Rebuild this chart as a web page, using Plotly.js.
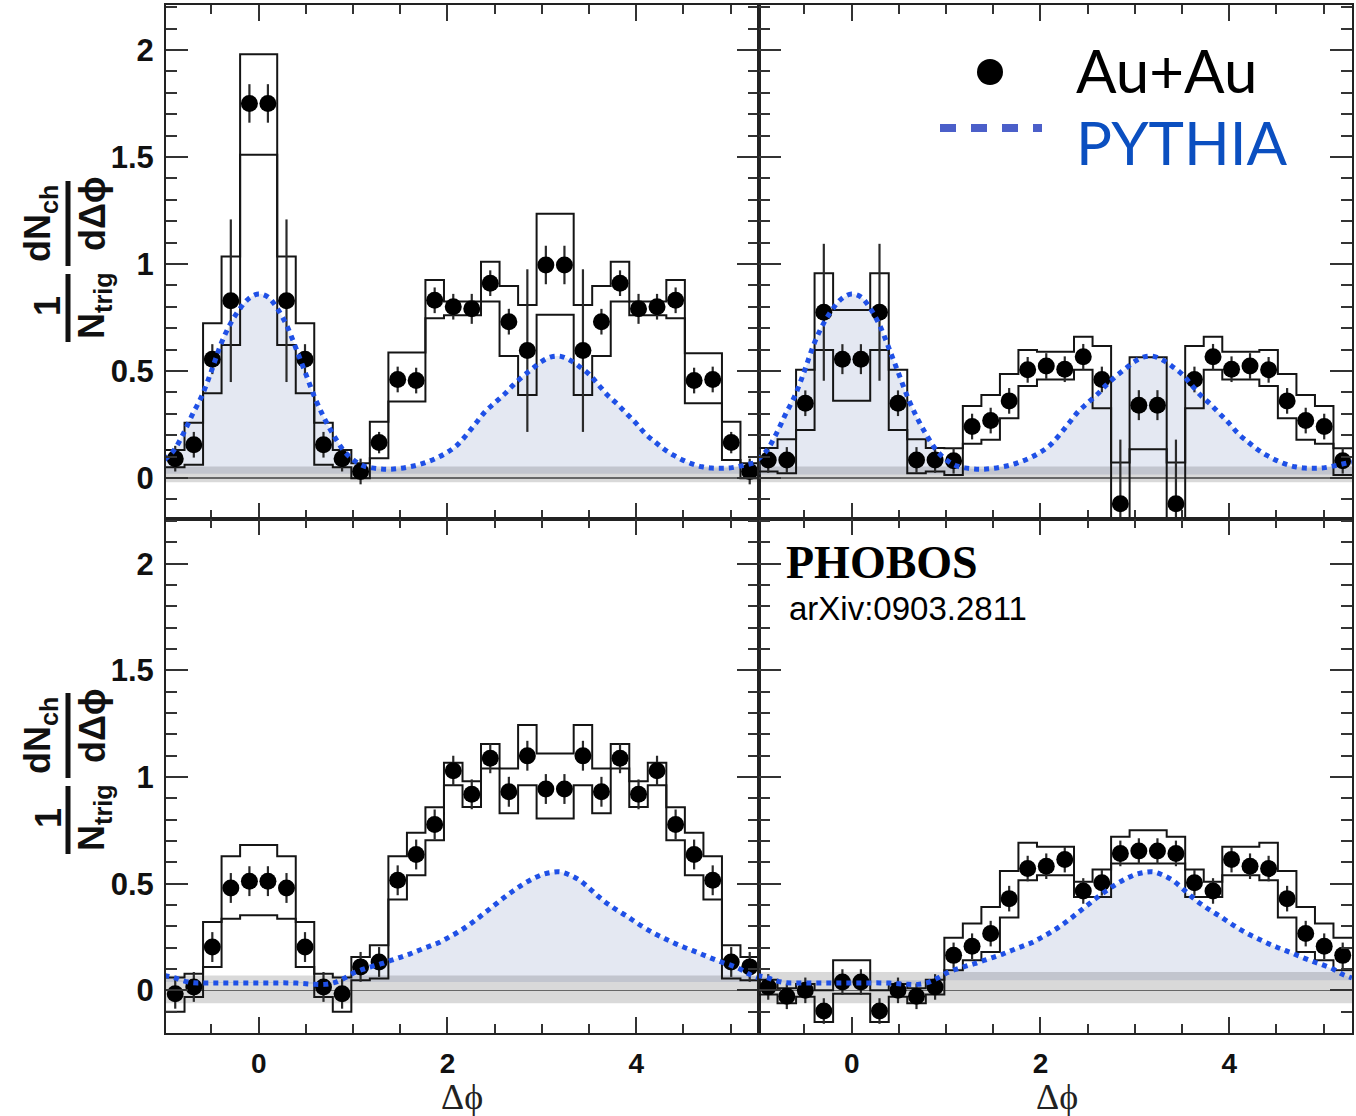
<!DOCTYPE html>
<html><head><meta charset="utf-8">
<script src="https://cdn.plot.ly/plotly-3.0.1.min.js"></script>
<style>html,body{margin:0;padding:0;background:#fff;}</style>
</head><body>
<div id="chart" style="width:1356px;height:1116px"></div>
<script>
// ---------- DATA ----------
const binCenters = [-0.884,-0.687,-0.491,-0.295,-0.098,0.098,0.295,0.491,0.687,0.884,1.080,1.276,1.473,1.669,1.865,2.062,2.258,2.454,2.651,2.847,3.043,3.240,3.436,3.632,3.829,4.025,4.221,4.418,4.614,4.811,5.007,5.203];

// top-left panel
const ptsTL   = [0.09,0.155,0.555,0.828,1.75,1.75,0.828,0.555,0.155,0.09,0.03,0.165,0.46,0.455,0.83,0.80,0.79,0.91,0.73,0.595,0.995,0.995,0.595,0.73,0.91,0.79,0.80,0.83,0.455,0.46,0.165,0.03];
const errTL   = [0.06,0.06,0.07,0.38,0.09,0.09,0.38,0.07,0.06,0.06,0.06,0.05,0.06,0.06,0.06,0.06,0.07,0.06,0.06,0.38,0.09,0.09,0.38,0.06,0.06,0.07,0.06,0.06,0.06,0.06,0.05,0.06];
const sysHiTL = [0.13,0.258,0.723,1.035,1.98,1.98,1.035,0.723,0.258,0.13,0.069,0.263,0.586,0.586,0.925,0.824,0.824,1.01,0.897,0.808,1.234,1.234,0.808,0.897,1.01,0.824,0.824,0.925,0.583,0.583,0.263,0.069];
const sysLoTL = [0.05,0.061,0.396,0.621,1.51,1.51,0.621,0.396,0.061,0.05,-0.002,0.092,0.357,0.357,0.746,0.76,0.76,0.824,0.57,0.388,0.762,0.762,0.388,0.57,0.824,0.76,0.76,0.746,0.349,0.349,0.084,-0.002];

// top-right panel
const ptsTR   = [0.084,0.084,0.349,0.774,0.555,0.555,0.774,0.349,0.084,0.084,0.08,0.24,0.268,0.36,0.505,0.523,0.508,0.566,0.46,-0.121,0.34,0.34,-0.121,0.46,0.566,0.508,0.523,0.505,0.36,0.268,0.24,0.08];
const errTR   = [0.06,0.06,0.06,0.32,0.07,0.07,0.32,0.06,0.06,0.06,0.06,0.06,0.06,0.06,0.06,0.06,0.06,0.06,0.06,0.30,0.07,0.07,0.30,0.06,0.06,0.06,0.06,0.06,0.06,0.06,0.06,0.06];
const sysHiTR = [0.14,0.181,0.505,0.957,0.785,0.785,0.957,0.505,0.181,0.14,0.139,0.336,0.388,0.486,0.598,0.59,0.59,0.66,0.617,0.072,0.564,0.564,0.072,0.617,0.66,0.59,0.59,0.598,0.486,0.388,0.336,0.139];
const sysLoTR = [0.03,0.022,0.224,0.598,0.361,0.361,0.598,0.224,0.022,0.03,0.014,0.16,0.178,0.279,0.43,0.46,0.46,0.505,0.326,-0.3,0.134,0.134,-0.3,0.326,0.505,0.46,0.46,0.43,0.279,0.178,0.16,0.014];

// bottom-left panel
const ptsBL   = [-0.016,0.016,0.203,0.48,0.512,0.512,0.48,0.203,0.016,-0.016,0.11,0.133,0.516,0.637,0.778,1.03,0.919,1.088,0.931,1.10,0.944,0.944,1.10,0.931,1.088,0.919,1.03,0.778,0.637,0.516,0.133,0.11];
const errBL   = [0.07,0.07,0.07,0.07,0.07,0.07,0.07,0.07,0.07,0.07,0.07,0.07,0.07,0.07,0.07,0.07,0.07,0.07,0.07,0.07,0.07,0.07,0.07,0.07,0.07,0.07,0.07,0.07,0.07,0.07,0.07,0.07];
const sysHiBL = [0.06,0.078,0.321,0.629,0.681,0.681,0.629,0.321,0.078,0.06,0.156,0.211,0.629,0.739,0.858,1.067,0.98,1.155,1.04,1.244,1.11,1.11,1.244,1.04,1.155,0.98,1.067,0.858,0.739,0.629,0.211,0.156];
const sysLoBL = [-0.1,-0.031,0.11,0.336,0.352,0.352,0.336,0.11,-0.031,-0.1,0.047,0.055,0.426,0.54,0.704,0.962,0.86,1.04,0.83,0.962,0.806,0.806,0.962,0.83,1.04,0.86,0.962,0.704,0.54,0.426,0.055,0.047];

// bottom-right panel
const ptsBR   = [0.016,-0.028,0.0,-0.097,0.039,0.039,-0.097,0.0,-0.028,0.016,0.164,0.207,0.266,0.43,0.571,0.582,0.613,0.466,0.504,0.642,0.653,0.653,0.642,0.504,0.466,0.613,0.582,0.571,0.43,0.266,0.207,0.164];
const errBR   = [0.06,0.06,0.06,0.06,0.06,0.06,0.06,0.06,0.06,0.06,0.06,0.06,0.06,0.06,0.06,0.06,0.06,0.06,0.06,0.06,0.06,0.06,0.06,0.06,0.06,0.06,0.06,0.06,0.06,0.06,0.06,0.06];
const sysHiBR = [0.05,0.01,0.03,0.0,0.141,0.141,0.0,0.03,0.01,0.05,0.247,0.313,0.391,0.56,0.692,0.673,0.673,0.509,0.567,0.72,0.751,0.751,0.72,0.567,0.509,0.673,0.673,0.692,0.56,0.391,0.313,0.247];
const sysLoBR = [-0.02,-0.06,-0.03,-0.149,-0.016,-0.016,-0.149,-0.03,-0.06,-0.02,0.094,0.141,0.18,0.341,0.516,0.54,0.54,0.438,0.438,0.595,0.595,0.595,0.595,0.438,0.438,0.54,0.54,0.516,0.341,0.18,0.141,0.094];

// PYTHIA reference curves
const pythiaX = [-1.0,-0.9,-0.8,-0.7,-0.6,-0.5,-0.4,-0.3,-0.2,-0.1,0.0,0.1,0.2,0.3,0.4,0.5,0.6,0.7,0.8,0.9,1.0,1.1,1.2,1.3,1.4,1.5,1.6,1.7,1.8,1.9,2.0,2.1,2.2,2.3,2.4,2.5,2.6,2.7,2.8,2.9,3.0,3.1,3.2,3.3,3.4,3.5,3.6,3.7,3.8,3.9,4.0,4.1,4.2,4.3,4.4,4.5,4.6,4.7,4.8,4.9,5.0,5.1,5.2,5.3];
const pythiaTop = [0.085,0.128,0.205,0.298,0.385,0.50,0.625,0.72,0.79,0.84,0.86,0.845,0.79,0.71,0.60,0.485,0.37,0.275,0.195,0.128,0.085,0.058,0.047,0.042,0.041,0.045,0.052,0.062,0.077,0.096,0.12,0.152,0.20,0.255,0.31,0.35,0.39,0.435,0.475,0.51,0.545,0.566,0.568,0.55,0.52,0.485,0.435,0.385,0.345,0.30,0.255,0.205,0.168,0.133,0.105,0.082,0.064,0.052,0.046,0.045,0.047,0.055,0.065,0.075];
const pythiaBottom = [0.07,0.06,0.045,0.036,0.035,0.035,0.035,0.035,0.035,0.035,0.035,0.035,0.035,0.035,0.034,0.031,0.028,0.028,0.036,0.055,0.08,0.098,0.112,0.125,0.14,0.155,0.17,0.188,0.205,0.222,0.245,0.27,0.298,0.33,0.365,0.40,0.435,0.467,0.497,0.522,0.542,0.553,0.555,0.54,0.516,0.48,0.44,0.405,0.375,0.348,0.318,0.29,0.265,0.243,0.222,0.203,0.186,0.168,0.15,0.133,0.118,0.10,0.075,0.058];

// ZYAM uncertainty band: [low edge, PYTHIA fill base, high edge]
const bandTL = [-0.02, 0.02, 0.053];
const bandTR = [-0.02, 0.016, 0.053];
const bandBL = [-0.06, 0.039, 0.07];
const bandBR = [-0.06, 0.047, 0.086];

const xTickVals = [0, 2, 4];

// ---------- BUILD ----------
const X0 = -0.98175, X1 = 5.30144;
const traces = [];
function panel(xa, ya, pts, err, hi, lo, py, band) {
  const common = {xaxis: xa, yaxis: ya, showlegend: false, hoverinfo: 'skip'};
  traces.push(Object.assign({x: [X0, X1], y: [band[1], band[1]], mode: 'lines', line: {width: 0, color: 'rgba(0,0,0,0)'}}, common));
  traces.push(Object.assign({x: pythiaX, y: py, mode: 'lines', line: {width: 0, shape: 'spline', color: 'rgba(0,0,0,0)'}, fill: 'tonexty', fillcolor: 'rgba(120,140,190,0.2)'}, common));
  traces.push(Object.assign({x: [X0, X1, X1, X0, X0], y: [band[0], band[0], band[2], band[2], band[0]], mode: 'lines', fill: 'toself', fillcolor: 'rgba(0,0,0,0.15)', line: {width: 0, color: 'rgba(0,0,0,0)'}}, common));
  // systematic envelopes drawn as step histograms (steps at bin edges)
  const ex = [X0].concat(binCenters, [X1]);
  [hi, lo].forEach(env => {
    const ey = [env[0]].concat(env, [env[env.length - 1]]);
    traces.push(Object.assign({x: ex, y: ey, mode: 'lines', line: {color: '#151515', width: 2, shape: 'hvh'}}, common));
  });
  traces.push(Object.assign({x: binCenters, y: pts, mode: 'markers', marker: {size: 17, color: '#000'},
    error_y: {type: 'data', array: err, visible: true, thickness: 2.2, width: 0, color: '#2a2a2a'}}, common));
  traces.push(Object.assign({x: pythiaX, y: py, mode: 'lines', line: {color: '#1f50e6', width: 5, dash: '5px,5px', shape: 'spline'}}, common));
}
panel('x', 'y', ptsTL, errTL, sysHiTL, sysLoTL, pythiaTop, bandTL);
panel('x2', 'y2', ptsTR, errTR, sysHiTR, sysLoTR, pythiaTop, bandTR);
panel('x3', 'y3', ptsBL, errBL, sysHiBL, sysLoBL, pythiaBottom, bandBL);
panel('x4', 'y4', ptsBR, errBR, sysHiBR, sysLoBR, pythiaBottom, bandBR);

const tickFontX = {family: 'Liberation Sans, Arial, sans-serif', size: 28, color: '#111', weight: 'bold'};
const tickFontY = {family: 'Liberation Sans, Arial, sans-serif', size: 31, color: '#111', weight: 'bold'};
function xAxis(domain, anchor, labels) {
  return {domain: domain, anchor: anchor, range: [X0, X1], showline: true, linecolor: '#222', linewidth: 2, mirror: 'ticks',
    ticks: 'inside', ticklen: 16, tickwidth: 2, tickcolor: '#333', tickmode: 'array', tickvals: xTickVals,
    minor: {ticks: 'inside', dtick: 0.5, tick0: 0, ticklen: 9, tickwidth: 2, tickcolor: '#333', showgrid: false},
    showgrid: false, zeroline: false, showticklabels: labels, tickfont: tickFontX, ticklabelstandoff: 4, fixedrange: true};
}
function yAxis(domain, anchor, range, labels) {
  return {domain: domain, anchor: anchor, range: range, showline: true, linecolor: '#222', linewidth: 2, mirror: 'ticks',
    ticks: 'inside', ticklen: 22, tickwidth: 2, tickcolor: '#333', dtick: 0.5, tick0: 0,
    minor: {ticks: 'inside', dtick: 0.1, tick0: 0, ticklen: 11, tickwidth: 2, tickcolor: '#333', showgrid: false},
    showgrid: false, zeroline: true, zerolinecolor: '#7a7a7a', zerolinewidth: 1.5,
    showticklabels: labels, tickfont: tickFontY, ticklabelstandoff: 4, fixedrange: true};
}

const P = px => (px - 166) / 1186;
const Q = py => (1033 - py) / 1028;
const titleFont = {family: 'Liberation Sans, Arial, sans-serif', size: 36, color: '#111', weight: 'bold'};
function ann(text, px, py, font, extra) {
  return Object.assign({text: text, x: P(px), y: Q(py), xref: 'paper', yref: 'paper', showarrow: false, font: font,
    xanchor: 'center', yanchor: 'middle'}, extra || {});
}
const annotations = [];
const shapes = [];
[0, 512].forEach(off => {
  annotations.push(ann('dN<sub>ch</sub>', 40, 224 + off, titleFont, {textangle: -90}));
  annotations.push(ann('1', 48, 306 + off, titleFont, {textangle: -90}));
  annotations.push(ann('N<sub>trig</sub>', 94, 306 + off, titleFont, {textangle: -90}));
  annotations.push(ann('dΔϕ', 92, 214 + off, titleFont, {textangle: -90}));
  shapes.push({type: 'line', xref: 'paper', yref: 'paper', x0: P(68), x1: P(68), y0: Q(274 + off), y1: Q(342 + off), line: {color: '#111', width: 5}});
  shapes.push({type: 'line', xref: 'paper', yref: 'paper', x0: P(68), x1: P(68), y0: Q(181 + off), y1: Q(266 + off), line: {color: '#111', width: 5}});
});
const xTitleFont = {family: 'Liberation Serif, serif', size: 36, color: '#222'};
annotations.push(ann('Δϕ', 462, 1097, xTitleFont));
annotations.push(ann('Δϕ', 1057, 1097, xTitleFont));
annotations.push(ann('PHOBOS', 784, 562, {family: 'Liberation Serif, serif', size: 46, color: '#000', weight: 'bold'}, {xanchor: 'left'}));
annotations.push(ann('arXiv:0903.2811', 787, 608, {family: 'Liberation Sans, Arial, sans-serif', size: 33, color: '#000'}, {xanchor: 'left'}));
annotations.push(ann('Au+Au', 1074, 70, {family: 'Lato, sans-serif', size: 60, color: '#000'}, {xanchor: 'left'}));
annotations.push(ann('PYTHIA', 1074, 142, {family: 'Lato, sans-serif', size: 60, color: '#0b4fc0'}, {xanchor: 'left'}));
shapes.push({type: 'circle', xref: 'paper', yref: 'paper', xsizemode: 'pixel', ysizemode: 'pixel', xanchor: P(990), yanchor: Q(72),
  x0: -13, x1: 13, y0: -13, y1: 13, fillcolor: '#000', line: {width: 0}});
shapes.push({type: 'line', xref: 'paper', yref: 'paper', x0: P(940), x1: P(1042), y0: Q(128), y1: Q(128),
  line: {color: '#4b5fc9', width: 8, dash: '16px,15px'}});

const layout = {
  width: 1356, height: 1116,
  margin: {l: 166, r: 4, t: 5, b: 83},
  paper_bgcolor: '#fff', plot_bgcolor: '#fff',
  showlegend: false,
  xaxis: xAxis([0, 0.5], 'y', false),
  yaxis: yAxis([0.5, 1], 'x', [-0.192, 2.21], true),
  xaxis2: xAxis([0.5, 1], 'y2', false),
  yaxis2: yAxis([0.5, 1], 'x2', [-0.192, 2.21], false),
  xaxis3: xAxis([0, 0.5], 'y3', true),
  yaxis3: yAxis([0, 0.5], 'x3', [-0.2, 2.21], true),
  xaxis4: xAxis([0.5, 1], 'y4', true),
  yaxis4: yAxis([0, 0.5], 'x4', [-0.2, 2.21], false),
  annotations: annotations,
  shapes: shapes
};
Plotly.newPlot('chart', traces, layout, {displayModeBar: false, staticPlot: true});
</script>
</body></html>
